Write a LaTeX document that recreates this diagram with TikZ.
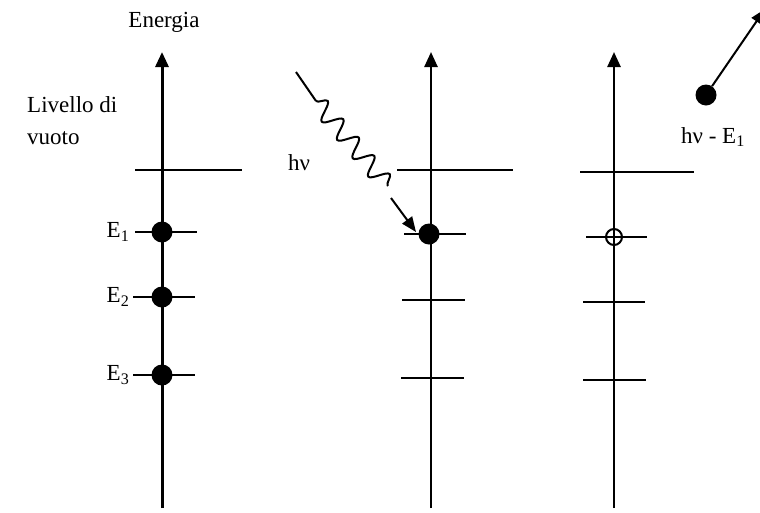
\documentclass[tikz,border=0pt]{standalone}
\usepackage{fontspec}
\setmainfont{Liberation Serif}
\usetikzlibrary{arrows.meta,decorations.pathmorphing}
\begin{document}
\begin{tikzpicture}[x=1pt,y=-1pt,
  axis/.style={line width=2.5pt,-{Triangle[length=15pt,width=13pt]}},
  level/.style={line width=2pt},
  electron/.style={circle,fill,inner sep=0pt,minimum size=21pt},
  hole/.style={circle,draw,line width=2pt,inner sep=0pt,minimum size=16pt},
  lbl/.style={font=\fontsize{23}{32}\selectfont,inner sep=0pt}]
  \useasboundingbox (0,0) rectangle (760,512);
  % assi dell'energia
  \draw[axis,line width=3pt] (162,508) -- (162,52);
  \draw[axis] (431,508) -- (431,52);
  \draw[axis] (614,508) -- (614,52);
  % livelli
  \draw[level] (135,170) -- (242,170);
  \draw[level] (135,232) -- (197,232);
  \draw[level] (133,297) -- (195,297);
  \draw[level] (133,375) -- (195,375);
  \draw[level] (397,170) -- (513,170);
  \draw[level] (404,234) -- (466,234);
  \draw[level] (402,300) -- (465,300);
  \draw[level] (401,378) -- (464,378);
  \draw[level] (580,172) -- (694,172);
  \draw[level] (586,237) -- (647,237);
  \draw[level] (583,302) -- (645,302);
  \draw[level] (583,380) -- (646,380);
  % elettroni
  \node[electron] (el1) at (162,232) {};
  \node[electron] (el2) at (162,297) {};
  \node[electron] (el3) at (162,375) {};
  \node[electron] (el4) at (429,234) {};
  \node[hole] (lac) at (614,237) {};
  \node[electron] (free) at (706,95) {};
  \coordinate (out) at (765,9);
  \draw[line width=2pt,-{Triangle[length=15pt,width=12pt]}] (free) -- (out);
  % fotone
  \coordinate (ph0) at (296,72);
  \coordinate (ph1) at (316,101);
  \coordinate (ph2) at (388,186);
  \coordinate (ph3) at (391,198);
  \coordinate (ph4) at (416,232);
  \draw[line width=2pt] (ph0) -- (ph1);
  \draw[line width=2pt,decorate,decoration={snake,amplitude=9pt,segment length=24pt}] (ph1) -- (ph2);
  \draw[line width=2pt,-{Triangle[length=15pt,width=12pt]}] (ph3) -- (ph4);
  % etichette
  \node[lbl] (en) at (164,22) {Energia};
  \node[lbl,anchor=west,align=left] (vuoto) at (27,121) {Livello di\\vuoto};
  \node[lbl] (hv) at (299,163) {hν};
  \node[lbl] (hvE) at (713,137) {hν - E\textsubscript{1}};
  \node[lbl] (E1) at (118,232) {E\textsubscript{1}};
  \node[lbl] (E2) at (118,297) {E\textsubscript{2}};
  \node[lbl] (E3) at (118,375) {E\textsubscript{3}};
\end{tikzpicture}
\end{document}
